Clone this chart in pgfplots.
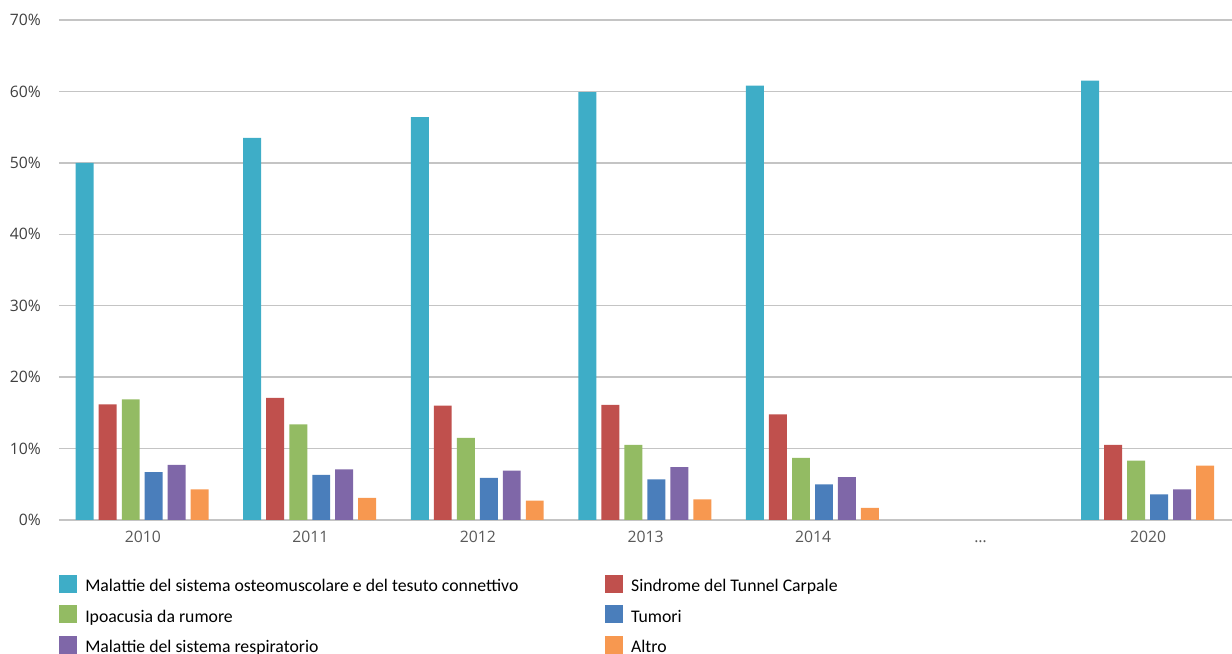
\documentclass[border=0pt]{standalone}
\usepackage{fontspec}
\setmainfont{Open Sans}
\newfontfamily\legfont{Carlito}
\usepackage{pgfplots}
\pgfplotsset{compat=1.18}

\definecolor{cTeal}{HTML}{3EADC7}
\definecolor{cRed}{HTML}{C0504D}
\definecolor{cGreen}{HTML}{93BB63}
\definecolor{cBlue}{HTML}{4A7EBB}
\definecolor{cPurple}{HTML}{7F67A8}
\definecolor{cOrange}{HTML}{F79850}
\definecolor{gridgray}{HTML}{C4C4C4}
\definecolor{ylabgray}{HTML}{404040}
\definecolor{xlabgray}{HTML}{595959}

\begin{document}
\begin{tikzpicture}
\begin{axis}[
  name=ax,
  at={(0,0)}, anchor=south west,
  scale only axis,
  width=879.75pt, height=375pt,
  xmin=-0.5, xmax=6.5,
  ymin=0, ymax=70,
  ytick={0,10,...,70},
  yticklabel={\pgfmathprintnumber{\tick}\%},
  xtick={0,...,6},
  xticklabels={2010,2011,2012,2013,2014,\ldots,2020},
  /pgf/number format/assume math mode=true,
  axis line style={draw=none},
  major tick length=0pt,
  ymajorgrids,
  grid style={draw=gridgray, line width=1.1pt},
  tick label style={font=\fontsize{11.8}{13}\selectfont},
  yticklabel style={text=ylabgray, inner sep=0pt, xshift=-13.5pt},
  xticklabel style={text=xlabgray, inner sep=0pt, text height=8.5pt, yshift=-8.5pt},
  ybar, bar width=0.107,
  legend columns=2,
  legend cell align=left,
  legend image code/.code={\fill[#1] (0pt,-4pt) rectangle (13.5pt,9.5pt);},
  legend style={
    at={(axis description cs:0,0)}, anchor=north west,
    yshift=-40.7pt,
    draw=none, fill=none, inner sep=0pt,
    font=\legfont\fontsize{13.3}{15}\selectfont,
    nodes={inner sep=0pt, text height=10pt, text depth=3.5pt},
    row sep=6.7pt,
    /tikz/every odd column/.style={column sep=6pt},
    /tikz/column 2/.style={column sep=65pt},
  },
]
% order: osteomuscolare, tunnel carpale, ipoacusia, tumori, respiratorio, altro
\addplot[fill=cTeal, draw=none, bar shift=-0.347] coordinates
  {(0,50.0) (1,53.5) (2,56.4) (3,59.9) (4,60.8) (6,61.5)};
\addlegendentry{Malattie del sistema osteomuscolare e del tesuto connettivo}
\addplot[fill=cRed, draw=none, bar shift=-0.210] coordinates
  {(0,16.2) (1,17.1) (2,16.0) (3,16.1) (4,14.8) (6,10.5)};
\addlegendentry{Sindrome del Tunnel Carpale}
\addplot[fill=cGreen, draw=none, bar shift=-0.072] coordinates
  {(0,16.9) (1,13.4) (2,11.5) (3,10.5) (4,8.7) (6,8.3)};
\addlegendentry{Ipoacusia da rumore}
\addplot[fill=cBlue, draw=none, bar shift=0.065] coordinates
  {(0,6.7) (1,6.3) (2,5.9) (3,5.7) (4,5.0) (6,3.6)};
\addlegendentry{Tumori}
\addplot[fill=cPurple, draw=none, bar shift=0.202] coordinates
  {(0,7.7) (1,7.1) (2,6.9) (3,7.4) (4,6.0) (6,4.3)};
\addlegendentry{Malattie del sistema respiratorio}
\addplot[fill=cOrange, draw=none, bar shift=0.339] coordinates
  {(0,4.3) (1,3.1) (2,2.7) (3,2.9) (4,1.7) (6,7.6)};
\addlegendentry{Altro}
\end{axis}
\pgfresetboundingbox
\path ([xshift=-44.25pt,yshift=-100.5pt]ax.south west) rectangle ([yshift=15pt]ax.north east);
\end{tikzpicture}
\end{document}
